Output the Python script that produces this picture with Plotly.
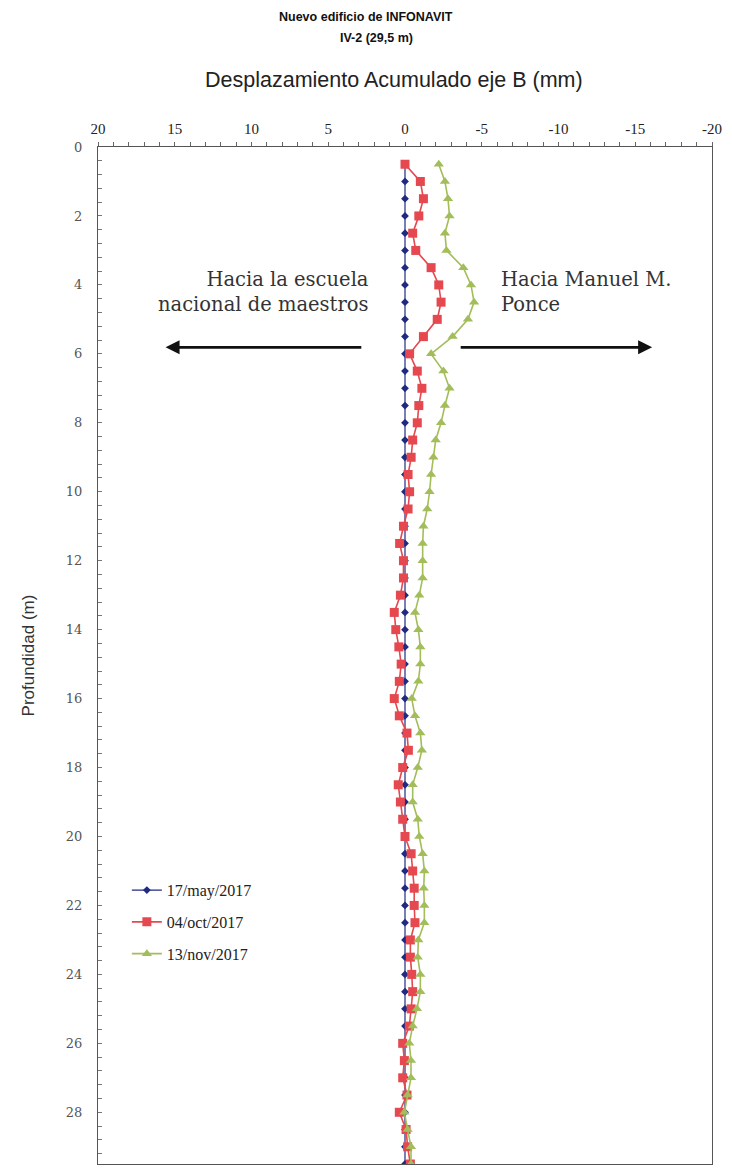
import plotly.graph_objects as go

depth = [0.5, 1.0, 1.5, 2.0, 2.5, 3.0, 3.5, 4.0, 4.5, 5.0, 5.5, 6.0, 6.5, 7.0, 7.5, 8.0, 8.5, 9.0, 9.5, 10.0,
         10.5, 11.0, 11.5, 12.0, 12.5, 13.0, 13.5, 14.0, 14.5, 15.0, 15.5, 16.0, 16.5, 17.0, 17.5, 18.0, 18.5, 19.0, 19.5, 20.0,
         20.5, 21.0, 21.5, 22.0, 22.5, 23.0, 23.5, 24.0, 24.5, 25.0, 25.5, 26.0, 26.5, 27.0, 27.5, 28.0, 28.5, 29.0, 29.5]

may_2017 = [0.0] * 59

oct_2017 = [0.0, -1.0, -1.2, -0.9, -0.5, -0.7, -1.7, -2.2, -2.35, -2.1, -1.2, -0.3, -0.8, -1.1, -0.9, -0.8, -0.5, -0.4, -0.2, -0.3,
            -0.2, 0.1, 0.35, 0.1, 0.1, 0.3, 0.7, 0.6, 0.4, 0.25, 0.37, 0.7, 0.37, -0.13, -0.22, 0.15, 0.44, 0.3, 0.15, 0.0,
            -0.4, -0.5, -0.6, -0.6, -0.65, -0.35, -0.35, -0.44, -0.5, -0.4, -0.28, 0.15, 0.04, 0.15, -0.13, 0.37, -0.07, -0.17, -0.35]

nov_2017 = [-2.2, -2.6, -2.8, -2.9, -2.6, -2.7, -3.8, -4.3, -4.5, -4.1, -3.1, -1.7, -2.5, -2.9, -2.6, -2.35, -2.0, -1.85, -1.7, -1.6,
            -1.45, -1.2, -1.15, -1.15, -1.15, -0.93, -0.65, -0.87, -1.0, -1.0, -0.87, -0.44, -0.65, -1.0, -1.1, -0.83, -0.5, -0.5, -0.83, -0.93,
            -1.15, -1.26, -1.22, -1.26, -1.26, -0.87, -0.83, -1.0, -1.0, -0.78, -0.5, -0.28, -0.39, -0.39, -0.17, 0.04, -0.17, -0.39, -0.39]

series_names = ["17/may/2017", "04/oct/2017", "13/nov/2017"]
x_ticks = [20, 15, 10, 5, 0, -5, -10, -15, -20]
y_ticks = [0, 2, 4, 6, 8, 10, 12, 14, 16, 18, 20, 22, 24, 26, 28]
title_lines = ["Nuevo edificio de INFONAVIT", "IV-2 (29,5 m)"]

fig = go.Figure()
fig.add_trace(go.Scatter(x=may_2017, y=depth, name=series_names[0], mode="lines+markers",
                         line=dict(color="#1F2A80", width=1.2),
                         marker=dict(symbol="diamond", size=6, color="#1F2A80"),
                         legendgroup="a"))
fig.add_trace(go.Scatter(x=oct_2017, y=depth, name=series_names[1], mode="lines+markers",
                         line=dict(color="#E5484F", width=1.6),
                         marker=dict(symbol="square", size=9, color="#E5484F"),
                         legendgroup="b"))
fig.add_trace(go.Scatter(x=nov_2017, y=depth, name=series_names[2], mode="lines+markers",
                         line=dict(color="#A3BD5A", width=1.6),
                         marker=dict(symbol="triangle-up", size=9, color="#A3BD5A"),
                         legendgroup="c"))

W, H = 724, 1162
T, B = 139, 6
PH = H - T - B


def py(p):
    # figure pixel (page pixel minus body offset) -> paper y
    return (H - B - p) / PH


fig.update_layout(
    width=W, height=H,
    margin=dict(l=90, r=20, t=T, b=B),
    paper_bgcolor="white", plot_bgcolor="white",
    showlegend=True,
    legend=dict(x=0.047, y=0.286, xanchor="left", yanchor="top",
                font=dict(family="Liberation Serif", size=16, color="#222"),
                bgcolor="rgba(0,0,0,0)", tracegroupgap=8),
)

fig.update_xaxes(range=[20, -20], side="top", tickvals=x_ticks, ticktext=[str(v) for v in x_ticks],
                 ticks="outside", ticklen=4, tickcolor="#666",
                 minor=dict(dtick=1, ticks="outside", ticklen=4, tickcolor="#666"),
                 showline=True, linecolor="#555", linewidth=1.2, mirror=True,
                 showgrid=False, zeroline=False, ticklabelstandoff=2,
                 tickfont=dict(family="Liberation Serif", size=15, color="#222"))
fig.update_yaxes(range=[29.5, 0], tickvals=y_ticks, ticktext=[str(v) for v in y_ticks],
                 ticks="inside", ticklen=4, tickcolor="#777",
                 minor=dict(dtick=0.4, ticks="inside", ticklen=4, tickcolor="#777"),
                 showline=True, linecolor="#555", linewidth=1.2, mirror=True,
                 showgrid=False, zeroline=False, ticklabelstandoff=12,
                 tickfont=dict(family="DejaVu Serif", size=13, color="#555"),
                 title=dict(text="Profundidad (m)", standoff=26,
                            font=dict(family="Liberation Sans", size=17, color="#333")))

fig.add_annotation(text="<b>" + title_lines[0] + "</b>", xref="paper", yref="paper",
                   x=(366 - 98) / 614, y=py(9), xanchor="center", yanchor="middle", showarrow=False,
                   font=dict(family="Liberation Sans", size=12.5, color="#111"))
fig.add_annotation(text="<b>" + title_lines[1] + "</b>", xref="paper", yref="paper",
                   x=(376 - 98) / 614, y=py(30), xanchor="center", yanchor="middle", showarrow=False,
                   font=dict(family="Liberation Sans", size=12.5, color="#111"))

fig.add_annotation(text="Desplazamiento Acumulado eje B (mm)", xref="paper", yref="paper",
                   x=0.482, y=py(72), xanchor="center", yanchor="middle", showarrow=False,
                   font=dict(family="Liberation Sans", size=21.5, color="#222"))

fig.add_annotation(text="Hacia la escuela<br>nacional de maestros", xref="x", yref="y",
                   x=2.2, y=4.2, xanchor="right", yanchor="middle", align="right", showarrow=False,
                   font=dict(family="DejaVu Serif", size=19.5, color="#333"))
fig.add_annotation(text="Hacia Manuel M.<br>Ponce", xref="x", yref="y",
                   x=-6.1, y=4.2, xanchor="left", yanchor="middle", align="left", showarrow=False,
                   font=dict(family="DejaVu Serif", size=19.5, color="#333"))

fig.add_annotation(x=15.6, y=5.81, ax=2.75, ay=5.81, xref="x", yref="y", axref="x", ayref="y",
                   text="", showarrow=True, arrowhead=2, arrowsize=1, arrowwidth=2.8, arrowcolor="#111")
fig.add_annotation(x=-16.1, y=5.81, ax=-3.53, ay=5.81, xref="x", yref="y", axref="x", ayref="y",
                   text="", showarrow=True, arrowhead=2, arrowsize=1, arrowwidth=2.8, arrowcolor="#111")

fig.write_html("out.html")
